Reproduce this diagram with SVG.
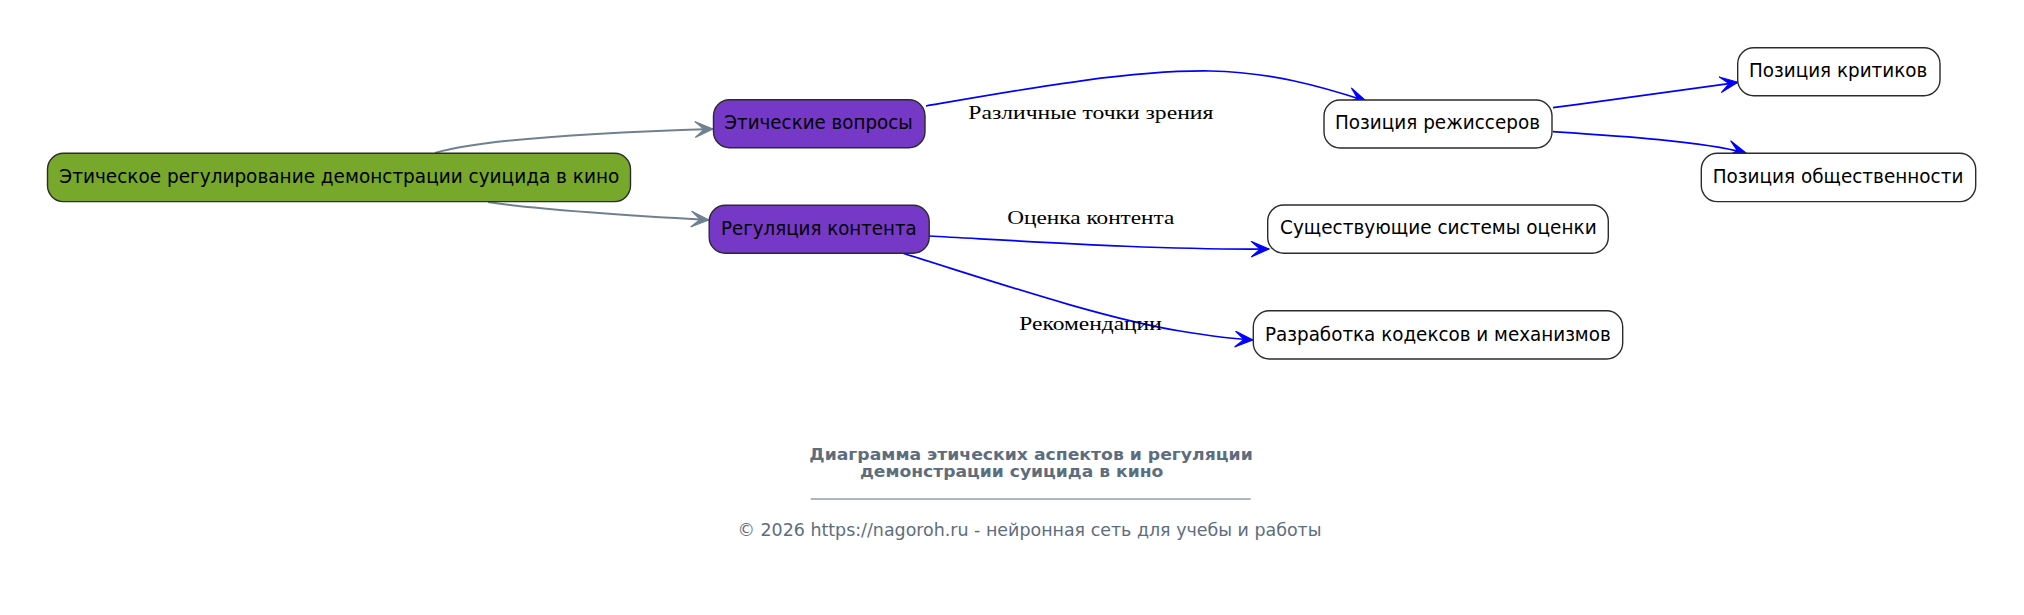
<svg xmlns="http://www.w3.org/2000/svg" width="2024" height="615" viewBox="0 0 2024 615">
<style>
.node rect{stroke:#2b2b2b;stroke-width:1.4}
.root rect{fill:#77a82b}
.purple rect{fill:#7638c6}
.white rect{fill:#ffffff}
.node text{font-family:"DejaVu Sans",sans-serif;font-size:18.67px;fill:#000}
.lbl{font-family:"Liberation Serif","DejaVu Serif",serif;font-size:18.67px;fill:#000}
.gray{fill:none;stroke:#708090;stroke-width:2}
.blue{fill:none;stroke:#0000ff;stroke-width:1.7}
.title{font-family:"DejaVu Sans",sans-serif;font-size:16px;font-weight:bold;fill:#5d6d7e}
.foot{font-family:"DejaVu Sans",sans-serif;font-size:17.3px;fill:#5d6d7e}
</style>
<defs>
<marker id="ag" markerUnits="userSpaceOnUse" markerWidth="20" markerHeight="18" viewBox="0 0 18 17" refX="17" refY="8" orient="auto">
<path d="M17,8 L0,0.5 L8.5,8 L0,15.5 Z" fill="#708090" stroke="#708090" stroke-width="1"/>
</marker>
<marker id="ab" markerUnits="userSpaceOnUse" markerWidth="20" markerHeight="18" viewBox="0 0 18 17" refX="17" refY="8" orient="auto">
<path d="M17,8 L0,0.5 L8.5,8 L0,15.5 Z" fill="#0000ff" stroke="#0000ff" stroke-width="1"/>
</marker>
</defs>
<rect x="0" y="0" width="2024" height="615" fill="#ffffff"/>
<g id="edges">
<path class="gray" d="M435,153 C480,140 580,133 713,129" marker-end="url(#ag)"/>
<path class="gray" d="M488,202 C540,210 620,215 709,220" marker-end="url(#ag)"/>
<path class="blue" d="M926,106 C1030,88 1130,70 1210,71 C1270,72 1320,86 1366,101" marker-end="url(#ab)"/>
<text class="lbl" x="968.3" y="119.3" textLength="245" lengthAdjust="spacingAndGlyphs">Различные точки зрения</text>
<path class="blue" d="M929,236 C1040,242 1160,250 1269,249" marker-end="url(#ab)"/>
<text class="lbl" x="1007.3" y="224" textLength="167" lengthAdjust="spacingAndGlyphs">Оценка контента</text>
<path class="blue" d="M902,253 C980,277 1100,318 1180,331 C1210,336 1235,339 1253,340" marker-end="url(#ab)"/>
<text class="lbl" x="1019.3" y="330" textLength="142.4" lengthAdjust="spacingAndGlyphs">Рекомендации</text>
<path class="blue" d="M1553,107.7 C1620,99 1690,89 1738,82.3" marker-end="url(#ab)"/>
<path class="blue" d="M1553,131.7 C1620,136 1700,141 1746,153" marker-end="url(#ab)"/>
</g>
<g id="n_root" class="node root">
<rect x="47.5" y="153.3" width="583" height="48.3" rx="16"/>
<text x="59.3" y="182.7" textLength="560" lengthAdjust="spacingAndGlyphs">Этическое регулирование демонстрации суицида в кино</text>
</g>
<g id="n_ethics" class="node purple">
<rect x="713.5" y="99.7" width="211.5" height="48" rx="16"/>
<text x="724.3" y="129" textLength="188.4" lengthAdjust="spacingAndGlyphs">Этические вопросы</text>
</g>
<g id="n_regulation" class="node purple">
<rect x="709.2" y="205.2" width="220" height="48" rx="16"/>
<text x="721" y="234.5" textLength="195.7" lengthAdjust="spacingAndGlyphs">Регуляция контента</text>
</g>
<g id="n_directors" class="node white">
<rect x="1324" y="100" width="228" height="48" rx="16"/>
<text x="1335" y="129" textLength="205" lengthAdjust="spacingAndGlyphs">Позиция режиссеров</text>
</g>
<g id="n_critics" class="node white">
<rect x="1737.7" y="47.7" width="202.3" height="48" rx="16"/>
<text x="1749" y="76.9" textLength="178.3" lengthAdjust="spacingAndGlyphs">Позиция критиков</text>
</g>
<g id="n_public" class="node white">
<rect x="1701.3" y="153.3" width="274.4" height="48.3" rx="16"/>
<text x="1712.7" y="182.7" textLength="250.7" lengthAdjust="spacingAndGlyphs">Позиция общественности</text>
</g>
<g id="n_systems" class="node white">
<rect x="1267.7" y="205" width="340.6" height="48.3" rx="16"/>
<text x="1280" y="234.3" textLength="316.7" lengthAdjust="spacingAndGlyphs">Существующие системы оценки</text>
</g>
<g id="n_codes" class="node white">
<rect x="1253.3" y="310.7" width="369.4" height="48.3" rx="16"/>
<text x="1265" y="340.7" textLength="345.7" lengthAdjust="spacingAndGlyphs">Разработка кодексов и механизмов</text>
</g>
<g id="caption">
<text class="title" x="809.3" y="460" textLength="443.4" lengthAdjust="spacingAndGlyphs">Диаграмма этических аспектов и регуляции</text>
<text class="title" x="860" y="477.3" textLength="303.3" lengthAdjust="spacingAndGlyphs">демонстрации суицида в кино</text>
<line x1="810.7" y1="499" x2="1250.7" y2="499" stroke="#5d6d7e" stroke-width="1"/>
<text class="foot" x="737.5" y="535.5" textLength="584" lengthAdjust="spacingAndGlyphs">© 2026 https://nagoroh.ru - нейронная сеть для учебы и работы</text>
</g>
</svg>
